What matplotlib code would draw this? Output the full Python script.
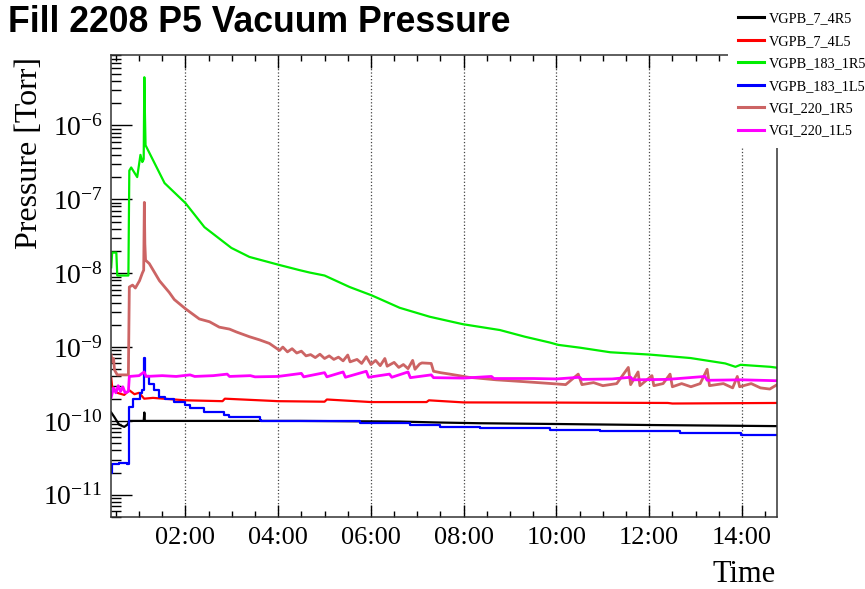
import matplotlib.pyplot as plt
from matplotlib.ticker import MultipleLocator, LogLocator, FuncFormatter, NullFormatter

plt.rcParams['font.family'] = ['Liberation Serif', 'DejaVu Serif']
plt.rcParams['mathtext.fontset'] = 'custom'
plt.rcParams['mathtext.rm'] = 'Liberation Serif'
plt.rcParams['mathtext.it'] = 'Liberation Serif:italic'

# time in hours since start of day, pressure in Torr
t_4r5 = [0.40, 0.47, 0.57, 0.68, 0.75, 0.79, 1.10, 1.114, 1.125, 2.0, 4.46, 5.5, 6.62, 7.5, 8.35, 9.86, 12.0, 14.76]
p_4r5 = [1.3e-10, 1.12e-10, 8.9e-11, 8.3e-11, 8.9e-11, 1.0e-10, 1.0e-10, 1.3e-10, 1.0e-10, 1.0e-10,
         1.0e-10, 9.9e-11, 9.8e-11, 9.5e-11, 9.3e-11, 9.1e-11, 8.8e-11, 8.5e-11]

t_4l5 = [0.40, 0.42, 0.53, 0.68, 0.79, 0.90, 1.0, 1.11, 1.3, 2.0, 2.8, 2.85, 4.0, 5.0, 5.05, 6.0, 7.2,
         7.25, 8.0, 10.0, 12.4, 12.5, 14.76]
p_4l5 = [3.8e-10, 2.9e-10, 2.4e-10, 2.25e-10, 2.6e-10, 2.3e-10, 2.4e-10, 2.0e-10, 2.05e-10, 1.9e-10,
         1.85e-10, 2.0e-10, 1.85e-10, 1.82e-10, 1.95e-10, 1.8e-10, 1.8e-10, 1.9e-10, 1.78e-10,
         1.77e-10, 1.75e-10, 1.72e-10, 1.75e-10]

t_183r = [0.40, 0.42, 0.51, 0.53, 0.77, 0.79, 0.83, 0.96, 1.03, 1.07, 1.10, 1.114, 1.125, 1.14, 1.55, 2.0,
          2.41, 2.99, 3.38, 4.03, 4.46, 4.68, 5.0, 5.54, 6.02, 6.62, 7.27, 7.98, 8.78, 9.32, 9.86, 10.04,
          10.51, 11.16, 12.02, 12.89, 13.64, 13.86, 13.97, 14.61, 14.76]
p_183r = [1.2e-8, 1.9e-8, 1.9e-8, 9.3e-9, 9.3e-9, 2.45e-7, 2.7e-7, 2.0e-7, 4.0e-7, 3.2e-7, 3.5e-7, 4.5e-6,
          1.6e-6, 5.4e-7, 1.66e-7, 8.9e-8, 4.2e-8, 2.2e-8, 1.66e-8, 1.29e-8, 1.1e-8, 1.02e-8, 9.3e-9,
          6.5e-9, 5.0e-9, 3.4e-9, 2.57e-9, 2.04e-9, 1.7e-9, 1.38e-9, 1.15e-9, 1.07e-9, 9.8e-10, 8.5e-10,
          7.9e-10, 7.1e-10, 6.0e-10, 5.4e-10, 5.75e-10, 5.4e-10, 5.25e-10]

t_183l = [0.40, 0.42, 0.57, 0.73, 0.79, 0.86, 1.01, 1.07, 1.11, 1.12, 1.14, 1.22, 1.33, 1.44, 1.55, 1.76,
          2.0, 2.09, 2.41, 2.84, 2.95, 3.60, 3.64, 4.46, 5.11, 5.76, 6.84, 7.49, 8.35, 9.21, 9.86, 10.94,
          12.67, 13.97, 14.76]
p_183l = [2.0e-11, 2.6e-11, 2.7e-11, 2.6e-11, 1.55e-10, 2.0e-10, 2.4e-10, 2.6e-10, 7.0e-10, 4.0e-10,
          4.0e-10, 3.2e-10, 2.6e-10, 2.1e-10, 2.0e-10, 1.8e-10, 1.66e-10, 1.5e-10, 1.3e-10, 1.2e-10,
          1.12e-10, 1.02e-10, 1.0e-10, 1.0e-10, 1.0e-10, 9.3e-11, 8.9e-11, 8.3e-11, 8.1e-11, 7.9e-11,
          7.6e-11, 7.4e-11, 6.9e-11, 6.5e-11, 6.5e-11]

t_220r = [0.40, 0.42, 0.45, 0.47, 0.53, 0.77, 0.79, 0.86, 0.92, 1.01, 1.07, 1.10, 1.114, 1.125, 1.14, 1.22,
          1.44, 1.65, 1.76, 2.0, 2.30, 2.52, 2.73, 2.95, 3.10, 3.38, 3.60, 3.81,
          4.03, 4.1, 4.2, 4.3, 4.4, 4.5, 4.6, 4.7, 4.8, 4.9, 5.0, 5.1, 5.2, 5.3, 5.4, 5.5, 5.55, 5.7, 5.8,
          5.9, 6.0, 6.1, 6.2, 6.3, 6.35, 6.5, 6.6, 6.7, 6.8, 6.9, 6.95, 7.05, 7.1, 7.3, 7.35, 7.5, 7.7,
          7.9, 8.1, 8.4, 8.7, 9.0, 9.3, 9.6, 9.9, 10.2, 10.47, 10.55, 10.8, 11.0, 11.3, 11.55, 11.6,
          11.76, 11.8, 12.06, 12.1, 12.3, 12.45, 12.5, 12.7, 12.9, 13.1, 13.25, 13.3, 13.6, 13.8, 13.9,
          13.95, 14.2, 14.4, 14.6, 14.76]
p_220r = [7.8e-10, 6.3e-10, 7.0e-10, 4.9e-10, 4.2e-10, 4.2e-10, 6.5e-9, 6.9e-9, 6.3e-9, 7.9e-9, 1.0e-8,
          1.1e-8, 9.1e-8, 2.5e-8, 1.5e-8, 1.35e-8, 7.9e-9, 5.5e-9, 4.4e-9, 3.3e-9, 2.4e-9, 2.2e-9,
          1.86e-9, 1.75e-9, 1.6e-9, 1.38e-9, 1.25e-9, 1.12e-9,
          9.0e-10, 1.0e-9, 8.6e-10, 9.5e-10, 8.3e-10, 8.8e-10, 7.6e-10, 7.9e-10, 7.2e-10, 8.0e-10,
          7.0e-10, 7.6e-10, 6.8e-10, 7.3e-10, 6.5e-10, 7.8e-10, 6.3e-10, 6.8e-10, 6.0e-10, 7.4e-10,
          5.8e-10, 6.6e-10, 5.6e-10, 7.0e-10, 5.5e-10, 6.2e-10, 5.3e-10, 5.8e-10, 5.1e-10, 6.6e-10,
          5.0e-10, 5.9e-10, 6.1e-10, 6.0e-10, 4.7e-10, 4.5e-10, 4.3e-10, 4.1e-10, 3.9e-10, 3.75e-10,
          3.6e-10, 3.5e-10, 3.4e-10, 3.3e-10, 3.2e-10, 3.1e-10, 4.3e-10, 3.1e-10, 3.3e-10, 3.0e-10,
          3.2e-10, 5.3e-10, 3.1e-10, 4.6e-10, 3.0e-10, 4.1e-10, 3.0e-10, 3.2e-10, 4.3e-10, 2.9e-10,
          3.2e-10, 2.9e-10, 3.2e-10, 5.0e-10, 3.0e-10, 3.2e-10, 2.8e-10, 4.0e-10, 2.9e-10, 3.2e-10,
          2.8e-10, 2.7e-10, 3.1e-10]

t_220l = [0.40, 0.45, 0.50, 0.55, 0.60, 0.65, 0.70, 0.77, 0.79, 1.0, 1.11, 1.15, 1.5, 1.8, 2.1, 2.2, 2.6,
          2.9, 2.95, 3.4, 3.5, 4.0, 4.5, 4.55, 5.0, 5.05, 5.4, 5.45, 5.9, 5.95, 6.4, 6.45, 6.8, 6.85, 7.3,
          7.35, 8.0, 8.6, 8.65, 9.5, 10.0, 10.5, 10.55, 11.2, 11.6, 11.65, 12.4, 13.2, 13.25, 14.0, 14.76]
p_220l = [2.1e-10, 2.8e-10, 2.4e-10, 3.0e-10, 2.5e-10, 2.9e-10, 2.4e-10, 2.5e-10, 4.0e-10, 4.1e-10,
          4.6e-10, 4.0e-10, 4.1e-10, 4.0e-10, 4.2e-10, 4.0e-10, 4.1e-10, 4.3e-10, 4.0e-10, 4.1e-10,
          3.95e-10, 4.0e-10, 4.4e-10, 3.95e-10, 4.5e-10, 3.95e-10, 4.6e-10, 3.9e-10, 4.7e-10, 3.9e-10,
          4.3e-10, 3.9e-10, 4.6e-10, 3.85e-10, 4.2e-10, 3.85e-10, 3.8e-10, 4.0e-10, 3.75e-10, 3.75e-10,
          3.7e-10, 3.9e-10, 3.65e-10, 3.7e-10, 3.9e-10, 3.6e-10, 3.65e-10, 4.0e-10, 3.55e-10, 3.6e-10,
          3.5e-10]

labels = ["VGPB_7_4R5", "VGPB_7_4L5", "VGPB_183_1R5", "VGPB_183_1L5", "VGI_220_1R5", "VGI_220_1L5"]
colors = ["#000000", "#ff0000", "#00ee00", "#0000ff", "#cc6464", "#ff00ff"]
widths = [1.6, 1.6, 1.6, 1.6, 2.0, 2.0]
steps = ["default", "default", "default", "steps-post", "default", "default"]
series = [(t_4r5, p_4r5), (t_4l5, p_4l5), (t_183r, p_183r), (t_183l, p_183l), (t_220r, p_220r), (t_220l, p_220l)]

fig = plt.figure(figsize=(8.65, 5.89), dpi=100)
ax = fig.add_axes([111 / 865, 1 - 517 / 589, 666 / 865, 462 / 589])

for (t, p), lab, c, w, ds in zip(series, labels, colors, widths, steps):
    ax.plot(t, p, color=c, lw=w, label=lab, drawstyle=ds)

ax.set_yscale("log")
ax.set_xlim(0.395, 14.756)
ax.set_ylim(5.0e-12, 9.0e-6)

ax.xaxis.set_major_locator(MultipleLocator(2))
ax.xaxis.set_minor_locator(MultipleLocator(0.5))
ax.xaxis.set_major_formatter(FuncFormatter(lambda v, pos: f"{int(round(v)):02d}:00"))
ax.yaxis.set_major_locator(LogLocator(base=10, numticks=20))
ax.yaxis.set_minor_locator(LogLocator(base=10, subs=range(2, 10), numticks=20))
ax.yaxis.set_minor_formatter(NullFormatter())

ax.tick_params(axis="x", which="both", direction="in", top=True, bottom=True, labelsize=19, pad=7)
ax.tick_params(axis="x", which="major", length=9, width=1)
ax.tick_params(axis="x", which="minor", length=4.5, width=1)
ax.tick_params(axis="y", which="both", direction="in", left=True, right=False, labelsize=20, pad=6)
ax.tick_params(axis="y", which="major", length=15, width=1)
ax.tick_params(axis="y", which="minor", length=7, width=1)

ax.grid(axis="x", which="major", linestyle=":", color="#444444", lw=0.9)
for s in ax.spines.values():
    s.set_linewidth(1.1)
    s.set_color("#333333")

leg = ax.legend(loc="upper left", bbox_to_anchor=(728 / 865, 1 - 2 / 589), bbox_transform=fig.transFigure,
                frameon=True, fancybox=False, facecolor="white", edgecolor="none", framealpha=1,
                fontsize=10.3, handlelength=1.82, handletextpad=0.3, labelspacing=0.66,
                borderpad=0.72, borderaxespad=0)
for line in leg.get_lines():
    line.set_linewidth(2.2)

fig.text(8 / 865, 1 - 22 / 589, "Fill 2208 P5 Vacuum Pressure", family="Liberation Sans",
         weight="bold", fontsize=25.7, ha="left", va="center")
fig.text(30 / 865, 1 - 57 / 589, "Pressure [Torr]", rotation=90, fontsize=23, ha="center", va="top")
fig.text(776 / 865, 1 - 574 / 589, "Time", fontsize=22, ha="right", va="center")

fig.savefig("out.png", dpi=100)
